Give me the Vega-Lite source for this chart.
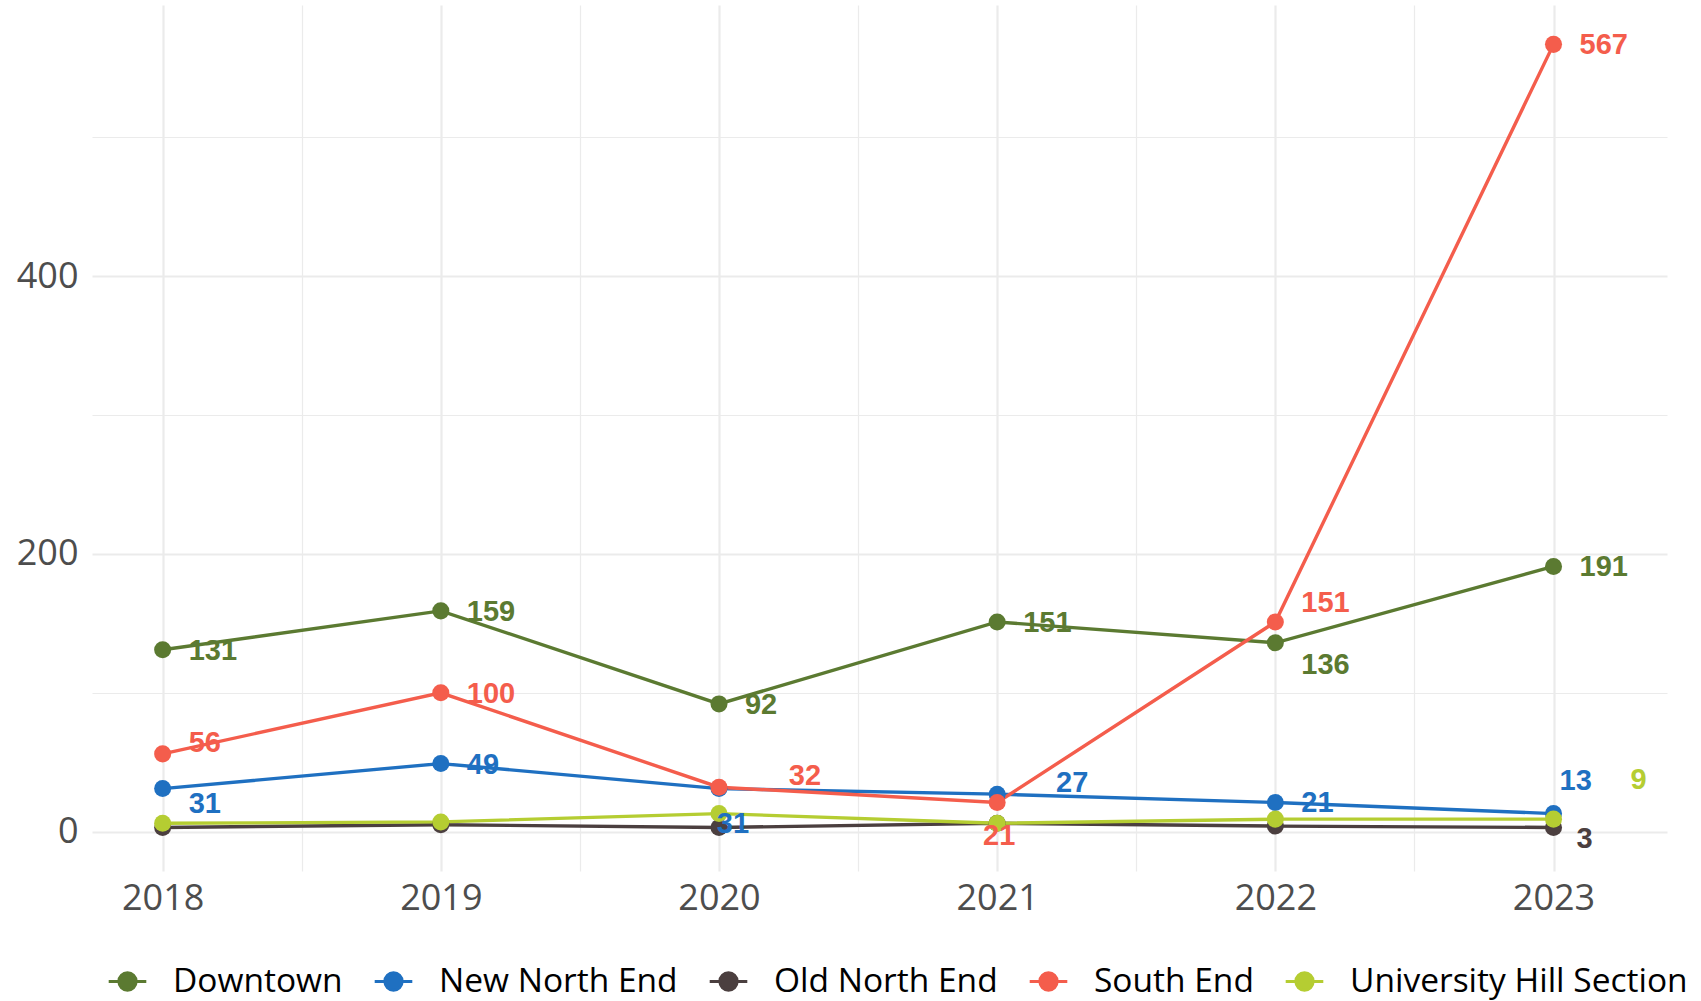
{
  "$schema": "https://vega.github.io/schema/vega-lite/v6.json",
  "width": 1575,
  "height": 866,
  "autosize": {"type": "none"},
  "padding": {"left": 92, "top": 5, "right": 34, "bottom": 130},
  "background": "white",
  "config": {
    "view": {"stroke": null},
    "axis": {"domain": false, "ticks": false, "title": null, "labelFont": "Open Sans", "labelFontSize": 36, "labelColor": "#4D4D4D", "gridColor": "#EBEBEB"}
  },
  "data": {
    "values": [
      {"area": "Downtown", "year": 2018, "value": 131},
      {"area": "Downtown", "year": 2019, "value": 159},
      {"area": "Downtown", "year": 2020, "value": 92},
      {"area": "Downtown", "year": 2021, "value": 151},
      {"area": "Downtown", "year": 2022, "value": 136},
      {"area": "Downtown", "year": 2023, "value": 191},
      {"area": "New North End", "year": 2018, "value": 31},
      {"area": "New North End", "year": 2019, "value": 49},
      {"area": "New North End", "year": 2020, "value": 31},
      {"area": "New North End", "year": 2021, "value": 27},
      {"area": "New North End", "year": 2022, "value": 21},
      {"area": "New North End", "year": 2023, "value": 13},
      {"area": "Old North End", "year": 2018, "value": 3},
      {"area": "Old North End", "year": 2019, "value": 5},
      {"area": "Old North End", "year": 2020, "value": 3},
      {"area": "Old North End", "year": 2021, "value": 6},
      {"area": "Old North End", "year": 2022, "value": 4},
      {"area": "Old North End", "year": 2023, "value": 3},
      {"area": "South End", "year": 2018, "value": 56},
      {"area": "South End", "year": 2019, "value": 100},
      {"area": "South End", "year": 2020, "value": 32},
      {"area": "South End", "year": 2021, "value": 21},
      {"area": "South End", "year": 2022, "value": 151},
      {"area": "South End", "year": 2023, "value": 567},
      {"area": "University Hill Section", "year": 2018, "value": 6},
      {"area": "University Hill Section", "year": 2019, "value": 7},
      {"area": "University Hill Section", "year": 2020, "value": 13},
      {"area": "University Hill Section", "year": 2021, "value": 6},
      {"area": "University Hill Section", "year": 2022, "value": 9},
      {"area": "University Hill Section", "year": 2023, "value": 9}
    ]
  },
  "encoding": {
    "x": {
      "field": "year", "type": "quantitative",
      "scale": {"domain": [2017.746, 2023.408], "nice": false, "zero": false},
      "axis": {
        "values": [2018, 2018.5, 2019, 2019.5, 2020, 2020.5, 2021, 2021.5, 2022, 2022.5, 2023],
        "labelExpr": "datum.value % 1 == 0 ? format(datum.value, 'd') : ''",
        "labelPadding": 10,
        "gridWidth": {"condition": {"test": "datum.value % 1 != 0", "value": 1.2}, "value": 2.2}
      }
    },
    "y": {
      "field": "value", "type": "quantitative",
      "scale": {"domain": [-28.35, 595.35], "nice": false, "zero": false},
      "axis": {
        "values": [0, 100, 200, 300, 400, 500],
        "labelExpr": "datum.value % 200 == 0 ? datum.label : ''",
        "labelPadding": 14,
        "gridWidth": {"condition": {"test": "datum.value % 200 != 0", "value": 1.2}, "value": 2.2}
      }
    },
    "color": {
      "field": "area", "type": "nominal",
      "scale": {
        "domain": ["Downtown", "New North End", "Old North End", "South End", "University Hill Section"],
        "range": ["#5B7A31", "#1F70C1", "#4B3F3F", "#F45D4C", "#B5CD32"]
      },
      "legend": {
        "orient": "none", "legendX": 15, "legendY": 956, "direction": "horizontal",
        "title": null,
        "symbolType": "M-1,0H1M0.46,0A0.46,0.46,0,1,1,-0.46,0A0.46,0.46,0,1,1,0.46,0Z",
        "symbolSize": 1414,
        "symbolStrokeWidth": 3,
        "labelFont": "Open Sans", "labelFontSize": 33.5, "labelColor": "#000000",
        "labelOffset": 25, "columnPadding": 25,
        "labelLimit": 600,
        "encode": {"symbols": {"update": {"stroke": {"scale": "color", "field": "value"}, "fill": {"scale": "color", "field": "value"}, "strokeWidth": {"value": 3}, "opacity": {"value": 1}}}}
      }
    }
  },
  "layer": [
    {"mark": {"type": "line", "strokeWidth": 3.4}},
    {"mark": {"type": "point", "filled": true, "size": 290, "opacity": 1}},
    {
      "encoding": {"text": {"field": "value", "type": "quantitative"}},
      "layer": [
        {"transform": [{"filter": "indexof(['Downtown|2018','Downtown|2019','Downtown|2020','Downtown|2021','Downtown|2023','New North End|2019','New North End|2022','South End|2019','South End|2023'], datum.area + '|' + datum.year) >= 0"}],
         "mark": {"type": "text", "font": "Liberation Sans", "fontWeight": "bold", "fontSize": 29, "align": "left", "baseline": "middle", "dx": 26, "dy": 1}},
        {"transform": [{"filter": "datum.area == 'Downtown' && datum.year == 2022"}],
         "mark": {"type": "text", "font": "Liberation Sans", "fontWeight": "bold", "fontSize": 29, "align": "left", "baseline": "middle", "dx": 26, "dy": 22}},
        {"transform": [{"filter": "datum.area == 'New North End' && datum.year == 2018"}],
         "mark": {"type": "text", "font": "Liberation Sans", "fontWeight": "bold", "fontSize": 29, "align": "left", "baseline": "middle", "dx": 26, "dy": 15}},
        {"transform": [{"filter": "datum.area == 'South End' && datum.year == 2018"}],
         "mark": {"type": "text", "font": "Liberation Sans", "fontWeight": "bold", "fontSize": 29, "align": "left", "baseline": "middle", "dx": 26, "dy": -11}},
        {"transform": [{"filter": "datum.area == 'South End' && datum.year == 2022"}],
         "mark": {"type": "text", "font": "Liberation Sans", "fontWeight": "bold", "fontSize": 29, "align": "left", "baseline": "middle", "dx": 26, "dy": -19}},
        {"transform": [{"filter": "datum.area == 'New North End' && datum.year == 2023"}],
         "mark": {"type": "text", "font": "Liberation Sans", "fontWeight": "bold", "fontSize": 29, "align": "left", "baseline": "middle", "dx": 6, "dy": -33}},
        {"transform": [{"filter": "datum.area == 'New North End' && datum.year == 2020"}],
         "mark": {"type": "text", "font": "Liberation Sans", "fontWeight": "bold", "fontSize": 29, "align": "center", "baseline": "middle", "dx": 14, "dy": 35}},
        {"transform": [{"filter": "datum.area == 'South End' && datum.year == 2021"}],
         "mark": {"type": "text", "font": "Liberation Sans", "fontWeight": "bold", "fontSize": 29, "align": "center", "baseline": "middle", "dx": 2, "dy": 34}},
        {"transform": [{"filter": "datum.area == 'South End' && datum.year == 2020"}],
         "mark": {"type": "text", "font": "Liberation Sans", "fontWeight": "bold", "fontSize": 29, "align": "center", "baseline": "middle", "dx": 86, "dy": -11}},
        {"transform": [{"filter": "datum.area == 'New North End' && datum.year == 2021"}],
         "mark": {"type": "text", "font": "Liberation Sans", "fontWeight": "bold", "fontSize": 29, "align": "center", "baseline": "middle", "dx": 75, "dy": -11}},
        {"transform": [{"filter": "datum.area == 'Old North End' && datum.year == 2023"}],
         "mark": {"type": "text", "font": "Liberation Sans", "fontWeight": "bold", "fontSize": 29, "align": "center", "baseline": "middle", "dx": 31, "dy": 12}},
        {"transform": [{"filter": "datum.area == 'University Hill Section' && datum.year == 2023"}],
         "mark": {"type": "text", "font": "Liberation Sans", "fontWeight": "bold", "fontSize": 29, "align": "center", "baseline": "middle", "dx": 85, "dy": -39}}
      ]
    }
  ]
}
